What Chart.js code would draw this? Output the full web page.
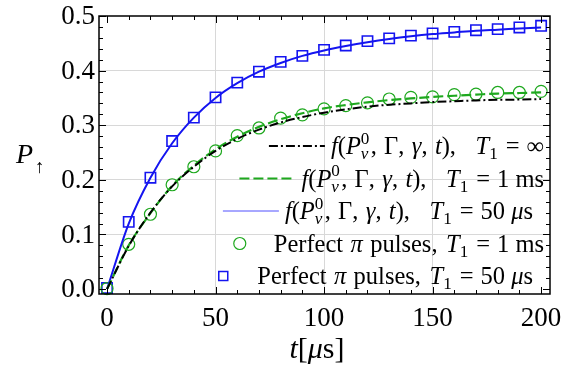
<!DOCTYPE html>
<html>
<head>
<meta charset="utf-8">
<script src="https://cdn.jsdelivr.net/npm/chart.js@4.4.1/dist/chart.umd.min.js"></script>
<style>
  body { margin: 0; background: #fff; }
</style>
</head>
<body>
<canvas id="chart" width="577" height="366"></canvas>
<script>
// time axis, microseconds
var tValues = [0, 10, 20, 30, 40, 50, 60, 70, 80, 90, 100, 110, 120, 130, 140, 150, 160, 170, 180, 190, 200];

// model curves f(P_v^0, Gamma, gamma, t)
var fInfinity = [0, 0.079, 0.140, 0.188, 0.224, 0.253, 0.275, 0.292, 0.305, 0.315, 0.323, 0.329, 0.334, 0.3375, 0.340, 0.3425, 0.344, 0.3455, 0.3465, 0.347, 0.348];
var f1ms = [0, 0.080, 0.139, 0.189, 0.226, 0.256, 0.279, 0.297, 0.311, 0.322, 0.331, 0.337, 0.342, 0.346, 0.349, 0.352, 0.354, 0.356, 0.358, 0.359, 0.360];
var f50us = [0, 0.120, 0.204, 0.267, 0.314, 0.350, 0.377, 0.398, 0.414, 0.427, 0.437, 0.445, 0.452, 0.458, 0.463, 0.467, 0.470, 0.473, 0.475, 0.477, 0.479];

// simulated perfect pi pulses
var pulses1ms = [0.001, 0.082, 0.137, 0.191, 0.224, 0.253, 0.281, 0.295, 0.313, 0.319, 0.330, 0.336, 0.341, 0.348, 0.351, 0.352, 0.356, 0.357, 0.360, 0.360, 0.362];
var pulses50us = [0.002, 0.123, 0.204, 0.271, 0.314, 0.351, 0.378, 0.398, 0.416, 0.427, 0.438, 0.446, 0.454, 0.459, 0.464, 0.468, 0.471, 0.474, 0.476, 0.479, 0.482];

var xTicks = [0, 50, 100, 150, 200];
var yTicks = [0, 0.1, 0.2, 0.3, 0.4, 0.5];
var xTickLabels = ['0', '50', '100', '150', '200'];
var yTickLabels = ['0.0', '0.1', '0.2', '0.3', '0.4', '0.5'];

var GREEN = '#1ea81e';
var BLUE = '#1414f0';
var SERIF = '"Liberation Serif", "DejaVu Serif", serif';

var pts = (ys) => tValues.map((t, i) => ({ x: t, y: ys[i] }));

// little math-ish text renderer: [style, text]
// 'r' roman, 'i' italic, 'g' gap in em, 's' sub(italic)+sup(roman), 'b' roman subscript
function fontFor(style, size) {
    return (style === 'i' ? 'italic ' : '') + size + 'px ' + SERIF;
}

function richWidth(ctx, parts, size) {
    var w = 0;
    parts.forEach(p => {
        if (p[0] === 'g') w += p[1] * size;
        else if (p[0] === 's') {
            ctx.font = fontFor('i', size * 0.7);
            var a = ctx.measureText(p[1]).width;
            ctx.font = fontFor('r', size * 0.7);
            var b = ctx.measureText(p[2]).width;
            w += Math.max(a, b) + 0.05 * size;
        } else if (p[0] === 'b') {
            ctx.font = fontFor('r', size * 0.7);
            w += ctx.measureText(p[1]).width + 0.05 * size;
        } else {
            ctx.font = fontFor(p[0], size);
            w += ctx.measureText(p[1]).width;
        }
    });
    return w;
}

function drawRich(ctx, parts, x, base, size) {
    parts.forEach(p => {
        if (p[0] === 'g') { x += p[1] * size; return; }
        if (p[0] === 's') {
            ctx.font = fontFor('i', size * 0.7);
            var a = ctx.measureText(p[1]).width;
            ctx.fillText(p[1], x, base + 0.22 * size);
            ctx.font = fontFor('r', size * 0.7);
            var b = ctx.measureText(p[2]).width;
            ctx.fillText(p[2], x, base - 0.42 * size);
            x += Math.max(a, b) + 0.05 * size;
            return;
        }
        if (p[0] === 'b') {
            ctx.font = fontFor('r', size * 0.7);
            ctx.fillText(p[1], x, base + 0.22 * size);
            x += ctx.measureText(p[1]).width + 0.05 * size;
            return;
        }
        ctx.font = fontFor(p[0], size);
        ctx.fillText(p[1], x, base);
        x += ctx.measureText(p[1]).width;
    });
}

var fPart = [['i', 'f'], ['r', '('], ['i', 'P'], ['s', 'v', '0'], ['r', ','], ['g', 0.3], ['r', 'Γ'], ['r', ','], ['g', 0.3],
    ['i', 'γ'], ['r', ','], ['g', 0.3], ['i', 't'], ['r', ')'], ['r', ','], ['g', 0.8]];
var t1Part = [['i', 'T'], ['b', '1'], ['g', 0.28], ['r', '='], ['g', 0.28]];
var pulsePart = [['r', 'Perfect'], ['g', 0.3], ['i', 'π'], ['g', 0.3], ['r', 'pulses,'], ['g', 0.35]];
var ms = [['r', '1'], ['g', 0.25], ['r', 'ms']];
var us = [['r', '50'], ['g', 0.25], ['i', 'μ'], ['r', 's'], ['g', 0.45]];

var legendRows = [
    { kind: 'line', color: '#000', dash: [9, 3, 2, 3], width: 2, text: fPart.concat(t1Part, [['r', '∞']]) },
    { kind: 'line', color: GREEN, dash: [10, 4], width: 2.2, text: fPart.concat(t1Part, ms) },
    { kind: 'line', color: '#5050ff', dash: [], width: 1, text: fPart.concat(t1Part, us) },
    { kind: 'circle', color: GREEN, text: pulsePart.concat(t1Part, ms) },
    { kind: 'rect', color: BLUE, text: pulsePart.concat(t1Part, us) }
];

var framePlugin = {
    id: 'frame',
    afterDraw(chart) {
        var ctx = chart.ctx, a = chart.chartArea;
        var xs = chart.scales.x, ys = chart.scales.y;
        ctx.save();
        ctx.strokeStyle = '#000';
        ctx.fillStyle = '#000';
        ctx.lineWidth = 1.5;
        ctx.strokeRect(a.left, a.top, a.right - a.left, a.bottom - a.top);

        // inward ticks on all sides
        ctx.lineWidth = 1;
        ctx.beginPath();
        for (var v = 0; v <= 200; v += 10) {
            var px = Math.round(xs.getPixelForValue(v)) + 0.5;
            var len = v % 50 === 0 ? 7 : 4;
            ctx.moveTo(px, a.bottom); ctx.lineTo(px, a.bottom - len);
            ctx.moveTo(px, a.top); ctx.lineTo(px, a.top + len);
        }
        for (var k = 0; k <= 25; k++) {
            var py = Math.round(ys.getPixelForValue(k * 0.02)) + 0.5;
            var len2 = k % 5 === 0 ? 7 : 4;
            ctx.moveTo(a.left, py); ctx.lineTo(a.left + len2, py);
            ctx.moveTo(a.right, py); ctx.lineTo(a.right - len2, py);
        }
        ctx.stroke();

        // tick labels
        ctx.font = '27px ' + SERIF;
        ctx.textBaseline = 'middle';
        ctx.textAlign = 'center';
        xTicks.forEach((v, i) => ctx.fillText(xTickLabels[i], xs.getPixelForValue(v), 319));
        ctx.textAlign = 'right';
        yTicks.forEach((v, i) => ctx.fillText(yTickLabels[i], a.left - 4, ys.getPixelForValue(v) + 1));

        // axis titles
        ctx.textBaseline = 'alphabetic';
        ctx.textAlign = 'left';
        var xt = [['i', 't'], ['r', '['], ['i', 'μ'], ['r', 's'], ['r', ']']];
        var wt = richWidth(ctx, xt, 30);
        drawRich(ctx, xt, 317 - wt / 2, 358, 30);
        ctx.font = 'italic 28px ' + SERIF;
        ctx.fillText('P', 16, 163);
        ctx.font = '19px ' + SERIF;
        ctx.fillText('↑', 35, 173);

        // legend, right aligned inside the plot
        var size = 24.5, right = 544;
        legendRows.forEach((row, i) => {
            var y = 146 + i * 32.5;
            var w = richWidth(ctx, row.text, size);
            var x0 = right - w;
            ctx.fillStyle = '#000';
            drawRich(ctx, row.text, x0, y + 8, size);
            var cx = x0 - 34;
            ctx.strokeStyle = row.color;
            if (row.kind === 'line') {
                ctx.lineWidth = row.width;
                ctx.setLineDash(row.dash);
                ctx.beginPath();
                ctx.moveTo(cx - 28, y); ctx.lineTo(cx + 28, y);
                ctx.stroke();
                ctx.setLineDash([]);
            } else if (row.kind === 'circle') {
                ctx.lineWidth = 1.2;
                ctx.beginPath();
                ctx.arc(cx, y, 6, 0, Math.PI * 2);
                ctx.stroke();
            } else {
                ctx.lineWidth = 1.5;
                ctx.strokeRect(cx - 4.5, y - 4.5, 9, 9);
            }
        });
        ctx.restore();
    }
};

var gridColor = (c, lo, hi) => (c.tick && c.tick.value > lo && c.tick.value < hi) ? '#d8d8d8' : 'rgba(0,0,0,0)';

new Chart('chart', {
    type: 'scatter',
    data: {
        datasets: [
            { data: pts(fInfinity), showLine: true, pointRadius: 0, borderColor: '#000', borderWidth: 2,
              borderDash: [9, 3, 2, 3], cubicInterpolationMode: 'monotone', order: 1 },
            { data: pts(f1ms), showLine: true, pointRadius: 0, borderColor: GREEN, borderWidth: 2.2,
              borderDash: [10, 4], cubicInterpolationMode: 'monotone', order: 2 },
            { data: pts(f50us), showLine: true, pointRadius: 0, borderColor: BLUE, borderWidth: 2,
              cubicInterpolationMode: 'monotone', order: 3 },
            { data: pts(pulses1ms), pointStyle: 'circle', pointRadius: 6, borderColor: GREEN, borderWidth: 1.2,
              backgroundColor: 'rgba(0,0,0,0)', order: 4 },
            { data: pts(pulses50us), pointStyle: 'rect', pointRadius: 7.3, borderColor: BLUE, borderWidth: 1.6,
              backgroundColor: 'rgba(0,0,0,0)', order: 5 }
        ]
    },
    options: {
        responsive: false,
        animation: false,
        devicePixelRatio: 1,
        clip: false,
        layout: { padding: { top: 16, right: 27, left: 0, bottom: 0 } },
        plugins: { legend: { display: false }, tooltip: { enabled: false } },
        scales: {
            x: {
                type: 'linear', min: -3.7, max: 204.1,
                afterBuildTicks: s => { s.ticks = xTicks.map(v => ({ value: v })); },
                afterFit: s => { s.height = 72; },
                ticks: { display: false },
                grid: { color: c => gridColor(c, 0, 200), lineWidth: 1, drawTicks: false },
                border: { display: false }
            },
            y: {
                type: 'linear', min: -0.009, max: 0.5,
                afterBuildTicks: s => { s.ticks = yTicks.map(v => ({ value: v })); },
                afterFit: s => { s.width = 99; },
                ticks: { display: false },
                grid: { color: c => gridColor(c, 0.05, 0.45), lineWidth: 1, drawTicks: false },
                border: { display: false }
            }
        }
    },
    plugins: [framePlugin]
});
</script>
</body>
</html>
